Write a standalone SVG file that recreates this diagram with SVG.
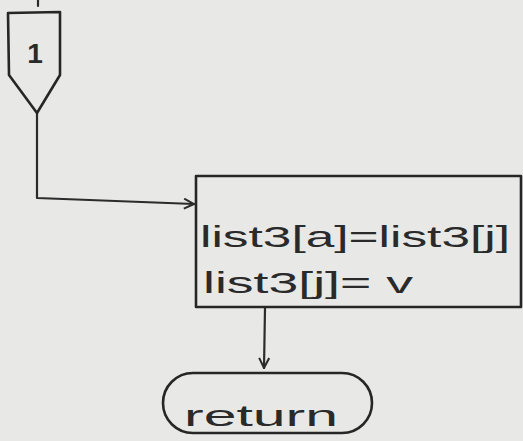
<svg xmlns="http://www.w3.org/2000/svg" width="523" height="441" viewBox="0 0 523 441">
<defs>
<style>
.ln{fill:none;stroke:#2b2b2b;stroke-width:2.2;stroke-linecap:round;stroke-linejoin:round}
.sh{fill:none;stroke:#262626;stroke-width:2.6;stroke-linejoin:round}
.tx{font-family:"Liberation Sans",Arial,sans-serif;fill:#2a2a2a}
</style>
<marker id="ah" viewBox="0 0 12 12" refX="11" refY="6" markerWidth="12" markerHeight="12" markerUnits="userSpaceOnUse" orient="auto">
<path d="M1,1 L11,6 L1,11" fill="none" stroke="#2b2b2b" stroke-width="2"/>
</marker>
</defs>
<rect width="523" height="441" fill="#e8e8e6"/>
<g id="connectors">
<path class="ln" d="M38,0 L38,6"/>
<path class="ln" d="M37,113 L37,198 L194,204" marker-end="url(#ah)"/>
<path class="ln" d="M265,308 L264,368" marker-end="url(#ah)"/>
</g>
<g id="offpage1">
<path class="sh" d="M8,13 L60,12 L60,75 L37,113 L9,75 Z"/>
<text class="tx" x="35" y="63" font-size="28" font-weight="bold" text-anchor="middle">1</text>
</g>
<g id="process">
<rect class="sh" x="196" y="176" width="325" height="131"/>
<text class="tx" x="200" y="247" font-size="30" textLength="310" lengthAdjust="spacingAndGlyphs">list3[a]=list3[j]</text>
<text class="tx" x="203" y="293" font-size="30" textLength="210" lengthAdjust="spacingAndGlyphs">list3[j]= v</text>
</g>
<g id="return">
<rect class="sh" x="163" y="373" width="209" height="60" rx="30" ry="30"/>
<text class="tx" x="184" y="426" font-size="30" textLength="154" lengthAdjust="spacingAndGlyphs">return</text>
</g>
</svg>
